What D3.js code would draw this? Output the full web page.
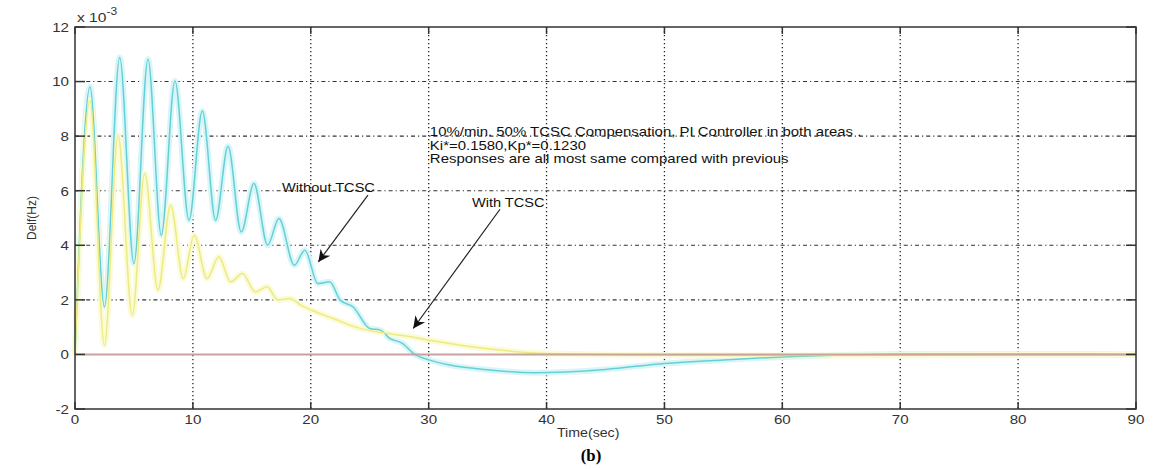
<!DOCTYPE html>
<html>
<head>
<meta charset="utf-8">
<script src="https://cdn.jsdelivr.net/npm/d3@7"></script>
<style>
  html, body { margin: 0; padding: 0; background: #fff; }
  svg { display: block; }
  .sans { font-family: "Liberation Sans", Arial, Helvetica, sans-serif; }
</style>
</head>
<body>
<div id="chart"></div>
<script>
// Frequency deviation (units of 1e-3 Hz) after a 10%/min load change
const timeWithout = [0, 1.27, 2.5, 3.79, 5.0, 6.19, 7.32, 8.48, 9.67, 10.8, 11.93, 12.98, 14.1, 15.18,
  16.34, 17.3, 18.6, 19.5, 20.6, 21.6, 22.5, 23.6, 25.0, 25.9, 26.7, 27.8, 28.7, 30.1, 31.8, 35.2,
  38.9, 45, 50, 55, 60, 65, 70, 80, 90];
const defWithout = [0, 9.8, 1.74, 10.88, 3.33, 10.82, 4.37, 10.02, 4.92, 8.92, 4.92, 7.63, 4.49, 6.26,
  4.0, 4.98, 3.27, 3.82, 2.6, 2.66, 1.99, 1.74, 0.95, 0.89, 0.59, 0.4, 0.04, -0.21, -0.39, -0.57,
  -0.67, -0.55, -0.33, -0.2, -0.09, -0.02, 0.01, 0.01, 0.0];

const timeWith = [0, 1.27, 2.5, 3.65, 4.86, 5.91, 7.04, 8.11, 9.19, 10.1, 11.2, 12.2, 13.2, 14.2, 15.3,
  16.3, 17.2, 18.2, 19.2, 20.1, 22, 23.75, 26, 28.6, 30.1, 33, 36, 40, 50, 60, 70, 80, 90];
const defWith = [0, 9.3, 0.34, 8.03, 1.44, 6.63, 2.36, 5.47, 2.78, 4.37, 2.78, 3.58, 2.66, 2.97, 2.29,
  2.48, 2.0, 2.05, 1.8, 1.62, 1.3, 1.01, 0.8, 0.64, 0.52, 0.32, 0.16, 0.03, -0.03, -0.04, -0.03, -0.02, -0.02];

const xTicks = [0, 10, 20, 30, 40, 50, 60, 70, 80, 90];
const yTicks = [-2, 0, 2, 4, 6, 8, 10, 12];

const noteLines = [
  "10%/min. 50% TCSC Compensation, PI Controller in both areas .",
  "Ki*=0.1580,Kp*=0.1230",
  "Responses are all most same compared with previous"
];

const W = 1154, H = 470;
const margin = { left: 75, right: 18, top: 27, bottom: 61 };
const iw = W - margin.left - margin.right;
const ih = H - margin.top - margin.bottom;

const svg = d3.select("#chart").append("svg").attr("width", W).attr("height", H);
const g = svg.append("g").attr("transform", `translate(${margin.left},${margin.top})`);

const x = d3.scaleLinear().domain([0, 90]).range([0, iw]);
const y = d3.scaleLinear().domain([-2, 12]).range([ih, 0]);

// slightly widened lettering
function wideText(parent, px, py, str, size, sx, opts = {}) {
  const t = parent.append("g")
    .attr("transform", `translate(${px},${py}) scale(${sx},1)`)
    .append("text")
    .attr("class", "sans")
    .attr("font-size", size)
    .attr("fill", opts.fill || "#333")
    .attr("text-anchor", opts.anchor || "start")
    .text(str);
  if (opts.dy) t.attr("dy", opts.dy);
  if (opts.family) t.attr("font-family", opts.family).attr("class", null);
  if (opts.weight) t.attr("font-weight", opts.weight);
  return t;
}

// grid
g.append("g").selectAll("line").data(xTicks.filter(d => d > 0 && d < 90)).join("line")
  .attr("x1", d => x(d)).attr("x2", d => x(d)).attr("y1", 0).attr("y2", ih)
  .attr("stroke", "#222").attr("stroke-width", 1.3).attr("stroke-dasharray", "1.3,2.7");
g.append("g").selectAll("line").data(yTicks.filter(d => d > -2 && d < 12 && d !== 0)).join("line")
  .attr("x1", 0).attr("x2", iw).attr("y1", d => y(d)).attr("y2", d => y(d))
  .attr("stroke", "#333").attr("stroke-width", 1.1).attr("stroke-dasharray", "4,3,1.2,3");

// curves
const line = d3.line().curve(d3.curveMonotoneX).x(d => x(d[0])).y(d => y(d[1]));
const without = timeWithout.map((t, i) => [t, defWithout[i]]);
const withT = timeWith.map((t, i) => [t, defWith[i]]);

g.append("path").datum(without).attr("d", line).attr("fill", "none")
  .attr("stroke", "#d8f6f8").attr("stroke-width", 6).attr("stroke-linejoin", "round");
g.append("path").datum(withT).attr("d", line).attr("fill", "none")
  .attr("stroke", "#fbfbd6").attr("stroke-width", 6).attr("stroke-linejoin", "round");
g.append("path").datum(without).attr("d", line).attr("fill", "none")
  .attr("stroke", "#66cfd6").attr("stroke-width", 1.5);
g.append("path").datum(withT).attr("d", line).attr("fill", "none")
  .attr("stroke", "#ebeb86").attr("stroke-width", 1.5);

// zero reference
g.append("line").attr("x1", x(0)).attr("x2", x(90)).attr("y1", y(0)).attr("y2", y(0))
  .attr("stroke", "#c9a19d").attr("stroke-width", 2);

// box and ticks
g.append("rect").attr("x", 0).attr("y", 0).attr("width", iw).attr("height", ih)
  .attr("fill", "none").attr("stroke", "#333").attr("stroke-width", 1.5);
const tk = g.append("g").attr("stroke", "#333").attr("stroke-width", 1.5);
xTicks.forEach(d => {
  tk.append("line").attr("x1", x(d)).attr("x2", x(d)).attr("y1", ih).attr("y2", ih - 7);
  tk.append("line").attr("x1", x(d)).attr("x2", x(d)).attr("y1", 0).attr("y2", 7);
});
yTicks.forEach(d => {
  tk.append("line").attr("x1", 0).attr("x2", 10).attr("y1", y(d)).attr("y2", y(d));
  tk.append("line").attr("x1", iw).attr("x2", iw - 10).attr("y1", y(d)).attr("y2", y(d));
});

// tick labels
xTicks.forEach(d => wideText(g, x(d), ih + 15, String(d), 13.5, 1.12, { anchor: "middle" }));
yTicks.forEach(d => wideText(g, -6, y(d), String(d), 13.5, 1.12, { anchor: "end", dy: "0.36em" }));

// exponent
const ex = svg.append("g").attr("transform", "translate(77,22) scale(1.2,1)")
  .append("text").attr("class", "sans").attr("font-size", 13).attr("fill", "#333");
ex.append("tspan").text("x 10");
ex.append("tspan").attr("font-size", 10).attr("dy", -7).text("-3");

// axis titles
wideText(svg, 557, 437, "Time(sec)", 13.5, 1.05, {});
svg.append("text").attr("class", "sans").attr("font-size", 12).attr("fill", "#333")
  .attr("text-anchor", "middle")
  .attr("transform", `translate(36,${margin.top + y(5)}) rotate(-90)`)
  .text("Delf(Hz)");

// panel caption
wideText(svg, 591, 461, "(b)", 16, 1.05, { anchor: "middle", family: "'Liberation Serif', 'Times New Roman', serif", weight: "bold", fill: "#000" });

// annotation note
noteLines.forEach((s, i) => wideText(g, x(30.1), y(8.0) + i * 13.6, s, 13, 1.15, { fill: "#111" }));

// labels with arrows
wideText(g, x(17.56), y(5.97), "Without TCSC", 13.5, 1.08, { fill: "#111" });
wideText(g, x(33.67), y(5.42), "With TCSC", 13.5, 1.08, { fill: "#111" });

svg.append("defs").append("marker").attr("id", "head")
  .attr("viewBox", "0 0 10 10").attr("refX", 10).attr("refY", 5)
  .attr("markerWidth", 18).attr("markerHeight", 12).attr("markerUnits", "userSpaceOnUse")
  .attr("orient", "auto")
  .append("path").attr("d", "M0,0 L10,5 L0,10 L3,5 Z").attr("fill", "#111");

const arrows = [
  { from: [24.85, 5.84], to: [20.64, 3.39] },
  { from: [36.05, 5.32], to: [28.69, 0.95] }
];
g.selectAll(".arrow").data(arrows).join("line").attr("class", "arrow")
  .attr("x1", d => x(d.from[0])).attr("y1", d => y(d.from[1]))
  .attr("x2", d => x(d.to[0])).attr("y2", d => y(d.to[1]))
  .attr("stroke", "#222").attr("stroke-width", 1.2).attr("marker-end", "url(#head)");
</script>
</body>
</html>
